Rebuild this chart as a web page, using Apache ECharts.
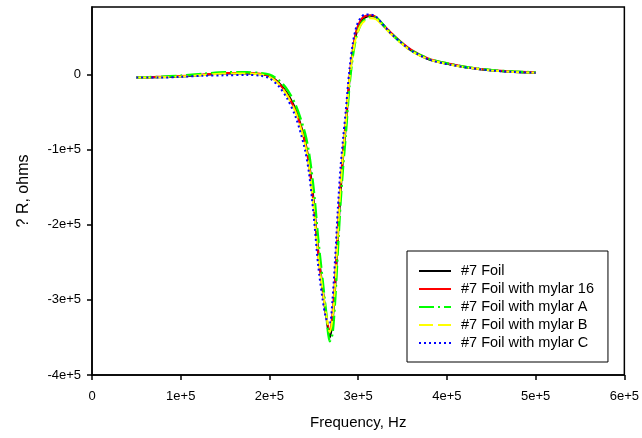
<!DOCTYPE html>
<html>
<head>
<meta charset="utf-8">
<script src="https://cdn.jsdelivr.net/npm/echarts@6/dist/echarts.min.js"></script>
<style>html,body{margin:0;padding:0;background:#fff}#c{width:642px;height:438px}</style>
</head>
<body>
<div id="c"></div>
<script>
var freq = [50000,75000,100000,125000,150000,175000,190000,200000,210000,220000,230000,240000,245000,250000,255000,260000,264000,268000,271000,274000,277000,280000,283000,286000,290000,294000,298000,303000,308000,314000,320000,327000,335000,345000,360000,380000,400000,425000,450000,475000,500000];
var foil = [-4000,-3500,-2500,-500,1500,1500,500,-2000,-10000,-25000,-48000,-88000,-120000,-170000,-235000,-285000,-322000,-350000,-330000,-285000,-220000,-160000,-110000,-70000,-10000,30000,55000,70000,76000,78000,76000,67000,57000,46000,32000,20000,14500,9000,5500,3500,2000];
var mylar16 = [-4000,-3000,-2000,0,2000,2000,1000,-2500,-11000,-27000,-50000,-90000,-124000,-175000,-240000,-288000,-322000,-340000,-318000,-270000,-205000,-148000,-100000,-62000,-5000,34000,59000,73000,78000,79000,77000,68000,58000,47000,33000,21000,15000,9500,6000,4000,3000];
var mylarA = [-4000,-3000,-1500,1000,3000,3000,2000,0,-7000,-20000,-42000,-78000,-108000,-155000,-220000,-275000,-318000,-355000,-345000,-300000,-235000,-172000,-122000,-80000,-16000,25000,51000,67000,74000,77000,76000,68000,58000,46000,32000,21000,15000,9500,6000,4000,3000];
var mylarB = [-4000,-3500,-2500,-500,1500,1500,0,-3000,-12000,-28000,-52000,-92000,-126000,-178000,-242000,-288000,-320000,-343000,-325000,-278000,-212000,-152000,-104000,-64000,-8000,28000,52000,66000,72000,75000,74000,66000,56000,45000,31000,20000,14000,9000,5500,3500,2500];
var mylarC = [-4000,-4000,-3000,-1500,-1000,-500,-1500,-5000,-15000,-32000,-58000,-100000,-135000,-190000,-255000,-300000,-325000,-330000,-300000,-245000,-180000,-125000,-85000,-48000,5000,42000,64000,76000,80000,80000,77000,68000,57000,46000,32000,20000,14000,9000,5500,3500,2500];
var names = ['#7 Foil','#7 Foil with mylar 16','#7 Foil with mylar A','#7 Foil with mylar B','#7 Foil with mylar C'];
var yTicks = [-400000,-300000,-200000,-100000,0];

function pairs(v){ return freq.map(function(f,i){ return [f, v[i]]; }); }
function fmt(v){ return v === 0 ? '0' : (v/100000) + 'e+5'; }

var styles = [
  {color:'#000000', type:'solid', width:2},
  {color:'#ff0000', type:'solid', width:2},
  {color:'#00ff00', type:[15,4,2,4], width:2.5},
  {color:'#ffff00', type:[14,5], width:2},
  {color:'#0000ff', type:[2,3], width:2}
];
var vals = [foil, mylar16, mylarA, mylarB, mylarC];
var FONT = 'Liberation Sans, Arial, sans-serif';

var chart = echarts.init(document.getElementById('c'), null, {renderer:'canvas'});
chart.setOption({
  animation:false,
  backgroundColor:'#fff',
  textStyle:{fontFamily:FONT},
  grid:{left:92, right:17, top:7, bottom:63, show:true, borderColor:'#000', borderWidth:1.5, backgroundColor:'transparent'},
  legend:{
    orient:'vertical', left:407, top:251,
    padding:[11,14,10,11], itemGap:0, itemWidth:32, itemHeight:18,
    borderColor:'#000', borderWidth:1, backgroundColor:'#fff',
    itemStyle:{opacity:0},
    textStyle:{fontSize:14.5, lineHeight:18, color:'#000', fontFamily:FONT, padding:[0,0,0,5]},
    data:names
  },
  xAxis:{
    type:'value', min:0, max:600000, interval:100000,
    name:'Frequency, Hz', nameLocation:'middle', nameGap:40,
    nameTextStyle:{fontSize:15, color:'#000', fontFamily:FONT},
    axisLine:{show:true, onZero:false, lineStyle:{color:'#000', width:1.5}},
    axisTick:{show:true, length:5, lineStyle:{color:'#000', width:1.5}},
    axisLabel:{color:'#000', fontSize:13, margin:15, formatter:fmt, fontFamily:FONT},
    splitLine:{show:false}
  },
  yAxis:{
    type:'value', min:-400000, max:90000, interval:100000,
    name:'? R, ohms', nameLocation:'middle', nameGap:60,
    nameTextStyle:{fontSize:16, color:'#000', fontFamily:FONT},
    axisLine:{show:true, onZero:false, lineStyle:{color:'#000', width:1.5}},
    axisTick:{show:true, length:5, customValues:yTicks, lineStyle:{color:'#000', width:1.5}},
    axisLabel:{color:'#000', fontSize:13, margin:11, customValues:yTicks, formatter:fmt, fontFamily:FONT},
    splitLine:{show:false}
  },
  series: names.map(function(n,i){
    return {
      name:n, type:'line', data:pairs(vals[i]), symbol:'none', smooth:0.3,
      lineStyle:styles[i], itemStyle:{color:styles[i].color}, z:2+i
    };
  })
});
</script>
</body>
</html>
